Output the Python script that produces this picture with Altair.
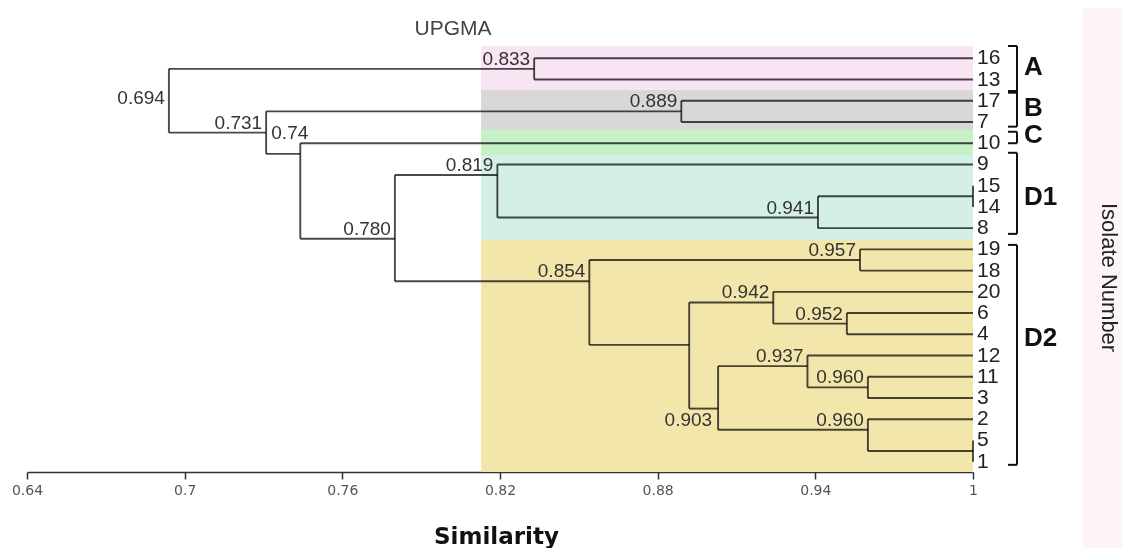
import altair as alt
import pandas as pd

# ---------------- data ----------------
# leaves, top to bottom (row index = position)
LEAVES = ["16", "13", "17", "7", "10", "9", "15", "14", "8", "19",
          "18", "20", "6", "4", "12", "11", "3", "2", "5", "1"]

# internal nodes: similarity where the join is drawn, row where it connects to its parent,
# printed label, and its two children
NODE_NAMES = ["nA", "nB", "n1514", "n8", "nD1", "n1918", "n64", "n20", "n113", "n12",
              "n51", "n2", "n903", "n892", "nD2", "n780", "n74", "n731", "root"]
NODE_SIM = [0.833, 0.889, 1.0, 0.941, 0.819, 0.957, 0.952, 0.924, 0.960, 0.937,
            1.0, 0.960, 0.903, 0.892, 0.854, 0.780, 0.744, 0.731, 0.694]
NODE_ROW = [0.5, 2.5, 6.5, 7.5, 5.5, 9.5, 12.5, 11.5, 15.5, 14.5,
            18.5, 17.5, 16.5, 13.5, 10.5, 8.5, 4.5, 3.5, 1.5]
NODE_LABEL = ["0.833", "0.889", "", "0.941", "0.819", "0.957", "0.952", "0.942", "0.960", "0.937",
              "", "0.960", "0.903", "", "0.854", "0.780", "0.74", "0.731", "0.694"]
NODE_LEFT = ["16", "17", "15", "n1514", "9", "19", "6", "20", "11", "12",
             "5", "2", "n12", "n20", "n1918", "nD1", "10", "nB", "nA"]
NODE_RIGHT = ["13", "7", "14", "8", "n8", "18", "4", "n64", "3", "n113",
              "1", "n51", "n2", "n903", "n892", "nD2", "n780", "n74", "n731"]

# groups (brackets on the right)
GROUPS = ["A", "B", "C", "D1", "D2"]
GROUP_FROM = [-0.58, 1.54, 3.46, 4.45, 8.79]
GROUP_TO = [1.62, 3.22, 4.0, 8.27, 19.15]
GROUP_LABEL_ROW = [0.39, 2.32, 3.61, 6.53, 13.17]

# coloured background bands
BAND_FROM = [-0.58, 1.49, 3.38, 4.55, 8.56]
BAND_TO = [1.49, 3.38, 4.55, 8.56, 19.487]
BAND_COLOR = ["#f8e4f2", "#dad8d6", "#c6f0c6", "#d4f0e6", "#f2e6aa"]
BAND_START = 0.8128

TICKS = [0.64, 0.7, 0.76, 0.82, 0.88, 0.94, 1.0]

# ---------------- layout ----------------
W, H = 946, 460
Y_DOMAIN = [-2.181, 19.487]
SPP = 0.36 / W  # similarity per pixel


def px(n):
    return 1.0 + n * SPP


# ---------------- build tables ----------------
row = {name: i for i, name in enumerate(LEAVES)}
sim = {name: 1.0 for name in LEAVES}
for n, s, r in zip(NODE_NAMES, NODE_SIM, NODE_ROW):
    row[n] = r
    sim[n] = s
parent = {}
for n, l, rt in zip(NODE_NAMES, NODE_LEFT, NODE_RIGHT):
    parent[l] = n
    parent[rt] = n

segs = []
for n, l, rt in zip(NODE_NAMES, NODE_LEFT, NODE_RIGHT):
    segs.append(dict(x=sim[n], x2=sim[n], y=row[l], y2=row[rt]))
for child, p in parent.items():
    if sim[child] > sim[p]:
        segs.append(dict(x=sim[p], x2=sim[child], y=row[child], y2=row[child]))
seg_df = pd.DataFrame(segs)

placement = {"n903": "below", "n74": "shifted", "root": "side"}
lab_df = pd.DataFrame({
    "x": NODE_SIM, "y": NODE_ROW, "label": NODE_LABEL,
    "place": [placement.get(n, "above") for n in NODE_NAMES],
})
lab_df = lab_df[lab_df["label"] != ""]

leaf_df = pd.DataFrame({"x": [1.0] * len(LEAVES), "y": list(range(len(LEAVES))), "label": LEAVES})

band_df = pd.DataFrame({"x": BAND_START, "x2": 1.0, "y": BAND_FROM, "y2": BAND_TO, "color": BAND_COLOR})

br = []
for g, a, b in zip(GROUPS, GROUP_FROM, GROUP_TO):
    br.append(dict(x=px(44), x2=px(44), y=a, y2=b))
    br.append(dict(x=px(35), x2=px(44), y=a, y2=a))
    br.append(dict(x=px(35), x2=px(44), y=b, y2=b))
br_df = pd.DataFrame(br)

grp_df = pd.DataFrame({"x": [1.0] * len(GROUPS), "y": GROUP_LABEL_ROW, "label": GROUPS})

xs = alt.Scale(domain=[0.64, 1.0], nice=False, zero=False)
ys = alt.Scale(domain=Y_DOMAIN, reverse=True, nice=False, zero=False)

XAXIS = alt.Axis(
    values=TICKS, format="~g", title="Similarity", grid=False, labelFlush=False,
    labelFont="DejaVu Sans", labelFontSize=14, labelColor="#555",
    tickColor="#333", tickSize=7, tickWidth=1.5, domainColor="#333", domainWidth=1.5,
    labelPadding=4, titleFont="DejaVu Sans", titleFontWeight="bold", titleFontSize=23,
    titleColor="#111", titleX=469, titleY=64, titleBaseline="middle", titleAlign="center")


def X(f="x"):
    return alt.X(f"{f}:Q", scale=xs, axis=XAXIS)


def Y(f="y"):
    return alt.Y(f"{f}:Q", scale=ys, axis=None)


strip = alt.Chart(pd.DataFrame({"x": [px(110)], "x2": [px(170)]})).mark_rect(color="#fcf4f7").encode(
    x=X(), x2="x2:Q", y=alt.value(-10), y2=alt.value(560))

bands = alt.Chart(band_df).mark_rect().encode(
    x=X(), x2="x2:Q", y=Y(), y2="y2:Q", color=alt.Color("color:N", scale=None))

lines = alt.Chart(seg_df).mark_rule(color="#4a4a4a", strokeWidth=1.9, blend="multiply").encode(
    x=X(), x2="x2:Q", y=Y(), y2="y2:Q")

brackets = alt.Chart(br_df).mark_rule(color="#111", strokeWidth=2).encode(
    x=X(), x2="x2:Q", y=Y(), y2="y2:Q")

NODE_FONT = dict(font="Liberation Sans", fontSize=19, color="#333", baseline="middle")
lab_above = alt.Chart(lab_df).transform_filter(alt.datum.place == "above").mark_text(
    align="right", dx=-4, dy=-10, **NODE_FONT).encode(x=X(), y=Y(), text="label:N")
lab_below = alt.Chart(lab_df).transform_filter(alt.datum.place == "below").mark_text(
    align="right", dx=-6, dy=11, **NODE_FONT).encode(x=X(), y=Y(), text="label:N")
lab_shift = alt.Chart(lab_df).transform_filter(alt.datum.place == "shifted").mark_text(
    align="right", dx=8, dy=-21, **NODE_FONT).encode(x=X(), y=Y(), text="label:N")
lab_side = alt.Chart(lab_df).transform_filter(alt.datum.place == "side").mark_text(
    align="right", dx=-4, dy=8, **NODE_FONT).encode(x=X(), y=Y(), text="label:N")

leaf_text = alt.Chart(leaf_df).mark_text(
    align="left", baseline="middle", dx=4, font="Liberation Sans",
    fontSize=21, color="#222").encode(x=X(), y=Y(), text="label:N")

grp_text = alt.Chart(grp_df).mark_text(
    align="left", baseline="middle", dx=51, font="Liberation Sans", fontWeight="bold",
    fontSize=26, color="#111").encode(x=X(), y=Y(), text="label:N")

upgma = alt.Chart(pd.DataFrame({"x": [0.8021], "y": [-1.38], "t": ["UPGMA"]})).mark_text(
    align="center", baseline="middle", font="Liberation Sans", fontSize=21, color="#444").encode(
    x=X(), y=Y(), text="t:N")

iso = alt.Chart(pd.DataFrame({"x": [px(136)], "y": [10.33], "t": ["Isolate Number"]})).mark_text(
    align="center", baseline="middle", angle=90, font="Liberation Sans", fontSize=22,
    color="#222").encode(x=X(), y=Y(), text="t:N")

chart = alt.layer(
    strip, bands, lines, brackets, lab_above, lab_below, lab_shift, lab_side,
    leaf_text, grp_text, upgma, iso
).properties(
    width=W, height=H,
    autosize=alt.AutoSizeParams(type="none"),
    padding={"left": 19, "top": 4, "right": 149, "bottom": 76},
).configure_view(stroke=None)

chart.save("out.html", embed_options={"renderer": "svg", "actions": False})
